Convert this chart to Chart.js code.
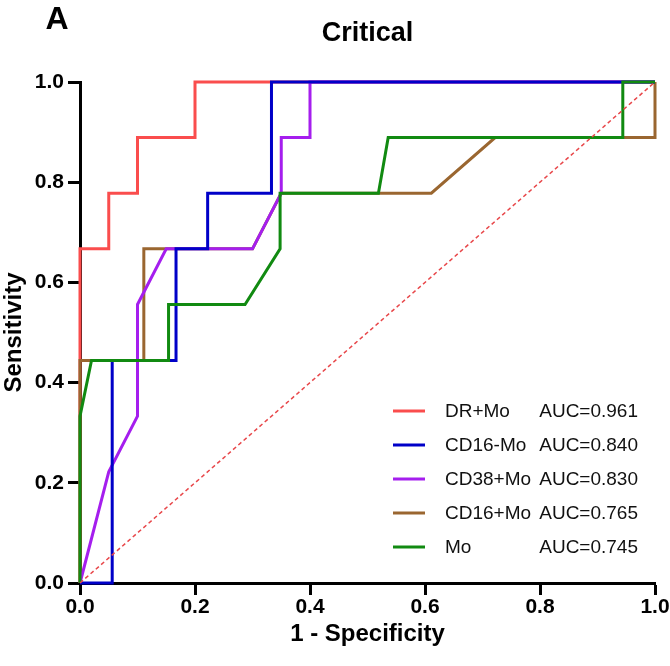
<!DOCTYPE html>
<html>
<head>
<meta charset="utf-8">
<script src="https://cdn.jsdelivr.net/npm/chart.js@4.4.1/dist/chart.umd.min.js"></script>
<style>
  html, body { margin: 0; padding: 0; background: #fff; }
  #wrap { width: 670px; height: 666px; position: relative; }
</style>
</head>
<body>
<div id="wrap"><canvas id="roc"></canvas></div>
<script>
// ROC curves - Critical

const FONT = "'Liberation Sans', Arial, sans-serif";

const seriesNames = ['DR+Mo', 'CD16-Mo', 'CD38+Mo', 'CD16+Mo', 'Mo'];
const aucLabels = ['AUC=0.961', 'AUC=0.840', 'AUC=0.830', 'AUC=0.765', 'AUC=0.745'];
const seriesColors = ['#FA4D4D', '#0000C8', '#A51EEE', '#9A6630', '#118A11'];

// 1 - specificity (x) and sensitivity (y) for each curve
const drFpr = [0, 0, 0.05, 0.05, 0.1, 0.1, 0.2, 0.2, 1];
const drTpr = [0, 0.667, 0.667, 0.778, 0.778, 0.889, 0.889, 1, 1];

const cd16mFpr = [0, 0.056, 0.056, 0.167, 0.167, 0.222, 0.222, 0.333, 0.333, 1];
const cd16mTpr = [0, 0, 0.444, 0.444, 0.667, 0.667, 0.778, 0.778, 1, 1];

const cd38Fpr = [0, 0.05, 0.1, 0.1, 0.15, 0.3, 0.35, 0.35, 0.4, 0.4, 1];
const cd38Tpr = [0, 0.222, 0.333, 0.556, 0.667, 0.667, 0.778, 0.889, 0.889, 1, 1];

const cd16pFpr = [0, 0, 0.111, 0.111, 0.3, 0.35, 0.611, 0.722, 1, 1];
const cd16pTpr = [0, 0.444, 0.444, 0.667, 0.667, 0.778, 0.778, 0.889, 0.889, 1];

const moFpr = [0, 0, 0.02, 0.154, 0.154, 0.287, 0.348, 0.348, 0.519, 0.536, 0.944, 0.944, 1];
const moTpr = [0, 0.333, 0.444, 0.444, 0.556, 0.556, 0.667, 0.778, 0.778, 0.889, 0.889, 1, 1];

const refLine = [0, 1];
const axisTicks = [0, 0.2, 0.4, 0.6, 0.8, 1.0];

const curves = [
  [drFpr, drTpr], [cd16mFpr, cd16mTpr], [cd38Fpr, cd38Tpr], [cd16pFpr, cd16pTpr], [moFpr, moTpr]
];
// stacking: green on top, then blue, purple, brown, red
const drawOrder = [5, 2, 3, 4, 1];

function toPoints(xs, ys){ return xs.map((x, i) => ({x: x, y: ys[i]})); }

const datasets = curves.map((c, i) => ({
  label: seriesNames[i],
  data: toPoints(c[0], c[1]),
  borderColor: seriesColors[i],
  borderWidth: 3,
  pointRadius: 0,
  tension: 0,
  fill: false,
  clip: false,
  order: drawOrder[i]
}));

datasets.push({
  label: 'ref',
  data: toPoints(refLine, refLine),
  borderColor: '#E8474A',
  borderWidth: 1.5,
  borderDash: [4, 3],
  pointRadius: 0,
  fill: false,
  clip: false,
  order: 0
});

// legend with names and AUC columns, inside plot bottom-right
const rocLegend = {
  id: 'rocLegend',
  afterDatasetsDraw(chart){
    const ctx = chart.ctx;
    const area = chart.chartArea;
    ctx.save();
    ctx.font = '19px ' + FONT;
    ctx.textBaseline = 'middle';
    seriesNames.forEach((name, i) => {
      const y = area.bottom - 172 + i * 34;
      ctx.strokeStyle = seriesColors[i];
      ctx.lineWidth = 3;
      ctx.beginPath();
      ctx.moveTo(area.left + 313, y);
      ctx.lineTo(area.left + 345, y);
      ctx.stroke();
      ctx.fillStyle = '#111';
      ctx.textAlign = 'left';
      ctx.fillText(name, area.left + 365, y + 1);
      ctx.textAlign = 'right';
      ctx.fillText(aucLabels[i], area.left + 558, y + 1);
    });
    ctx.restore();
  }
};

// panel letter and title centred over the plot area
const headings = {
  id: 'headings',
  afterDraw(chart){
    const ctx = chart.ctx;
    const area = chart.chartArea;
    ctx.save();
    ctx.fillStyle = '#000';
    ctx.textAlign = 'center';
    ctx.textBaseline = 'middle';
    ctx.font = 'bold 32px ' + FONT;
    ctx.fillText('A', 57, 20);
    ctx.font = 'bold 27px ' + FONT;
    ctx.fillText('Critical', (area.left + area.right) / 2, 34);
    ctx.restore();
  }
};

const axisCommon = {
  type: 'linear',
  min: 0,
  max: 1,
  border: {color: '#000', width: 3},
  grid: {drawOnChartArea: false, drawTicks: true, tickLength: 12, tickWidth: 3, tickColor: '#000', color: '#000'},
  afterBuildTicks(scale){ scale.ticks = axisTicks.map(v => ({value: v})); }
};

new Chart(document.getElementById('roc'), {
  type: 'line',
  data: {datasets},
  options: {
    responsive: true,
    maintainAspectRatio: false,
    animation: false,
    layout: {padding: {left: 0, right: 0, top: 82, bottom: 0}},
    plugins: {
      legend: {display: false},
      tooltip: {enabled: false},
      title: {display: false}
    },
    scales: {
      x: Object.assign({}, axisCommon, {
        position: 'bottom',
        ticks: {color: '#000', padding: 0, font: {family: FONT, size: 21, weight: 'bold'},
          callback: v => Number(v).toFixed(1)},
        title: {display: true, text: '1 - Specificity', color: '#000',
          font: {family: FONT, size: 24, weight: 'bold'}, padding: {top: 0, bottom: 17}},
        afterFit(scale){ scale.height = 83; scale.paddingRight = 15; scale.paddingLeft = 0; }
      }),
      y: Object.assign({}, axisCommon, {
        position: 'left',
        ticks: {color: '#000', padding: 4, font: {family: FONT, size: 21, weight: 'bold'},
          callback: v => Number(v).toFixed(1)},
        title: {display: true, text: 'Sensitivity', color: '#000',
          font: {family: FONT, size: 24, weight: 'bold'}, padding: {top: 0, bottom: 0}},
        afterFit(scale){ scale.width = 80; scale.paddingTop = 0; scale.paddingBottom = 0; }
      })
    }
  },
  plugins: [rocLegend, headings]
});
</script>
</body>
</html>
